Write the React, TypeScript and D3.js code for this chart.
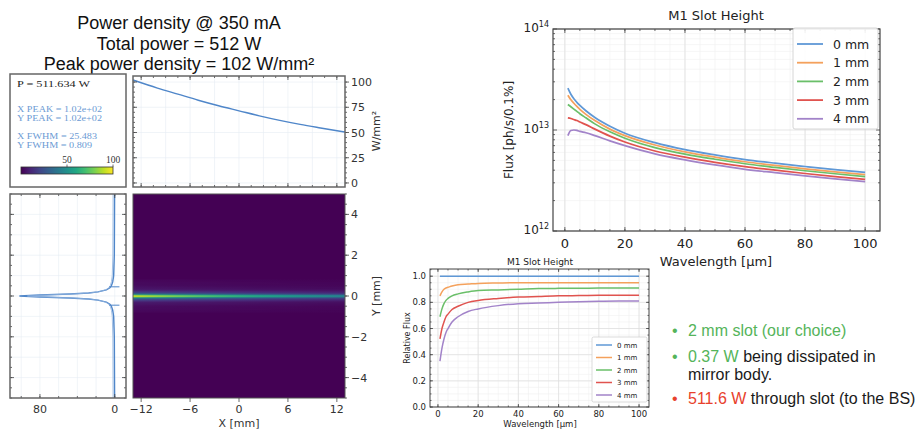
import React from 'react';
import * as d3 from 'd3';

const W = 917;
const H = 430;

// ---------- Power density (left panel) ----------
const xProfX = [-13, -10, -7.5, -5, -2.5, 0, 2.5, 5, 7.5, 10, 13];
const xProfV = [102, 94, 88, 82, 76.5, 71.5, 66.5, 62, 58, 54.5, 50.5];
const yProfY = [-5, -2, -1, -0.7, -0.5, -0.4, -0.3, -0.2, -0.15, -0.1, -0.05, 0, 0.05, 0.1, 0.15, 0.2, 0.3, 0.4, 0.5, 0.7, 1, 2, 5];
const yProfV = [0.2, 0.5, 1.2, 2.2, 3.6, 5.2, 9, 18, 28, 48, 80, 102, 80, 48, 28, 18, 9, 5.2, 3.6, 2.2, 1.2, 0.5, 0.2];
const titleLines = ['Power density @ 350 mA', 'Total power = 512 W', 'Peak power density = 102 W/mm²'];
const infoBlack = 'P = 511.634 W';
const infoBlue1 = ['X PEAK = 1.02e+02', 'Y PEAK = 1.02e+02'];
const infoBlue2 = ['X FWHM = 25.483', 'Y FWHM = 0.809'];
const hmXTicks = [-12, -6, 0, 6, 12];
const hmYTicks = [-4, -2, 0, 2, 4];
const profYTicks = [0, 25, 50, 75, 100];
const leftXTicks = [80, 0];
const cbarTicks = [50, 100];

// ---------- Flux chart (top right) ----------
const wavelengths = [1, 2, 3, 4, 5, 7, 10, 15, 20, 30, 40, 50, 60, 70, 80, 90, 100];
const slotLabels = ['0 mm', '1 mm', '2 mm', '3 mm', '4 mm'];
const slotColors = ['#5f98d6', '#f4a15c', '#6abf69', '#e0534f', '#a283c9'];
// flux in units of 1e12 ph/s/0.1%
const flux0 = [26, 22.6, 20.4, 18.8, 17.5, 15.5, 13.3, 10.9, 9.3, 7.5, 6.4, 5.67, 5.1, 4.69, 4.35, 4.05, 3.8];
const flux1 = [22.1, 19.9, 18.4, 17.1, 16.0, 14.3, 12.4, 10.2, 8.8, 7.1, 6.08, 5.39, 4.85, 4.46, 4.13, 3.85, 3.61];
const flux2 = [17.9, 17.0, 16.1, 15.3, 14.5, 13.2, 11.5, 9.6, 8.3, 6.7, 5.76, 5.13, 4.63, 4.26, 3.95, 3.69, 3.46];
const flux3 = [13.2, 13.0, 12.7, 12.4, 12.0, 11.3, 10.2, 8.7, 7.6, 6.2, 5.38, 4.79, 4.34, 4.0, 3.71, 3.46, 3.25];
const flux4 = [8.8, 9.9, 10.0, 9.9, 9.7, 9.4, 8.8, 7.8, 7.0, 5.8, 5.06, 4.51, 4.08, 3.78, 3.51, 3.28, 3.08];
const fluxSeries = [flux0, flux1, flux2, flux3, flux4];
const fluxUnit = 1e12;
const wlTicks = [0, 20, 40, 60, 80, 100];
const fluxDecades = [12, 13, 14];

// ---------- Relative flux chart (bottom) ----------
const rel0 = [1, 1, 1, 1, 1, 1, 1, 1, 1, 1, 1, 1, 1, 1, 1, 1, 1];
const rel1 = [0.85, 0.88, 0.9, 0.91, 0.915, 0.925, 0.935, 0.94, 0.945, 0.948, 0.95, 0.95, 0.95, 0.95, 0.95, 0.95, 0.95];
const rel2 = [0.69, 0.75, 0.79, 0.815, 0.83, 0.85, 0.865, 0.88, 0.89, 0.895, 0.9, 0.905, 0.907, 0.908, 0.909, 0.91, 0.91];
const rel3 = [0.52, 0.6, 0.65, 0.69, 0.71, 0.745, 0.77, 0.8, 0.815, 0.83, 0.84, 0.845, 0.85, 0.852, 0.854, 0.855, 0.855];
const rel4 = [0.35, 0.45, 0.52, 0.57, 0.6, 0.65, 0.69, 0.73, 0.75, 0.775, 0.79, 0.795, 0.8, 0.805, 0.808, 0.81, 0.81];
const relSeries = [rel0, rel1, rel2, rel3, rel4];
const relTicks = [0, 0.2, 0.4, 0.6, 0.8, 1.0];

// ---------- Bullets ----------
const bullets = [
  [{ t: '2 mm slot (our choice)', c: '#55b45a' }],
  [{ t: '0.37 W', c: '#55b45a' }, { t: ' being dissipated in', c: '#1a1a1a' }],
  [{ t: 'mirror body.', c: '#1a1a1a' }],
  [{ t: '511.6 W', c: '#e8412c' }, { t: ' through slot (to the BS)', c: '#1a1a1a' }],
];

const MPL = "'DejaVu Sans', sans-serif";
const SANS = "'Liberation Sans', Arial, sans-serif";
const SERIF = "'Liberation Serif', 'Times New Roman', serif";

function range(a: number, b: number, s: number) {
  const o: number[] = [];
  for (let v = a; v <= b + 1e-9; v += s) o.push(+v.toFixed(6));
  return o;
}

type Sc = (v: number) => number;

function XTicks({ s, vals, y0, y1, len, col = '#444', w = 0.8 }: { s: Sc; vals: number[]; y0: number; y1: number | null; len: number; col?: string; w?: number }) {
  return (
    <g stroke={col} strokeWidth={w}>
      {vals.map((v, i) => (
        <g key={i}>
          <line x1={s(v)} x2={s(v)} y1={y0} y2={y0 - len} />
          {y1 !== null && <line x1={s(v)} x2={s(v)} y1={y1} y2={y1 + len} />}
        </g>
      ))}
    </g>
  );
}
function YTicks({ s, vals, x0, x1, len, col = '#444', w = 0.8 }: { s: Sc; vals: number[]; x0: number | null; x1: number | null; len: number; col?: string; w?: number }) {
  return (
    <g stroke={col} strokeWidth={w}>
      {vals.map((v, i) => (
        <g key={i}>
          {x0 !== null && <line y1={s(v)} y2={s(v)} x1={x0} x2={x0 + len} />}
          {x1 !== null && <line y1={s(v)} y2={s(v)} x1={x1} x2={x1 - len} />}
        </g>
      ))}
    </g>
  );
}
function VGrid({ s, vals, y0, y1, col, w = 0.6 }: { s: Sc; vals: number[]; y0: number; y1: number; col: string; w?: number }) {
  return <g stroke={col} strokeWidth={w}>{vals.map((v, i) => <line key={i} x1={s(v)} x2={s(v)} y1={y0} y2={y1} />)}</g>;
}
function HGrid({ s, vals, x0, x1, col, w = 0.6 }: { s: Sc; vals: number[]; x0: number; x1: number; col: string; w?: number }) {
  return <g stroke={col} strokeWidth={w}>{vals.map((v, i) => <line key={i} y1={s(v)} y2={s(v)} x1={x0} x2={x1} />)}</g>;
}

export default function App() {
  // ---------- left panel geometry ----------
  const hx = d3.scaleLinear().domain([-13, 13]).range([133, 345]);
  const hy = d3.scaleLinear().domain([-5, 5]).range([398, 194]);
  const py = d3.scaleLinear().domain([-4, 106]).range([187, 76]);
  const lx = d3.scaleLinear().domain([112, -12]).range([10, 126]);
  const color = d3.scaleSequential(d3.interpolateViridis).domain([0, 102]);
  const yInterp = d3.scaleLinear().domain(yProfY).range(yProfV).clamp(true);
  const cbx = d3.scaleLinear().domain([0, 100]).range([21, 113]);

  const profLine = d3.line<number>().x((_, i) => hx(xProfX[i])).y((v) => py(v)).curve(d3.curveMonotoneX);
  const leftLine = d3.line<number>().x((v) => lx(v)).y((_, i) => hy(yProfY[i]));

  const bandStep = 0.04;
  const bands = range(-0.8, 0.8 - bandStep, bandStep);

  // ---------- top right chart ----------
  const fx = d3.scaleLinear().domain([-3.95, 104.95]).range([553, 880]);
  const fy = d3.scaleLog().domain([1e12, 1e14]).range([231, 29]);
  const fLine = d3.line<number>().x((_, i) => fx(wavelengths[i])).y((v) => fy(v * fluxUnit)).curve(d3.curveMonotoneX);
  const logMinor: number[] = [];
  [12, 13].forEach((d) => { for (let m = 2; m <= 9; m++) logMinor.push(m * Math.pow(10, d)); });

  // ---------- bottom chart ----------
  const rx = d3.scaleLinear().domain([-3.95, 104.95]).range([430, 649]);
  const ry = d3.scaleLinear().domain([0, 1.055]).range([407, 269]);
  const rLine = d3.line<number>().x((_, i) => rx(wavelengths[i])).y((v) => ry(v)).curve(d3.curveMonotoneX);

  const infoRows = [
    { t: infoBlack, y: 86.5, c: '#222', len: 73 },
    { t: infoBlue1[0], y: 112, c: '#6b9ad4', len: 85 },
    { t: infoBlue1[1], y: 121, c: '#6b9ad4', len: 85 },
    { t: infoBlue2[0], y: 139, c: '#6b9ad4', len: 80 },
    { t: infoBlue2[1], y: 148, c: '#6b9ad4', len: 75 },
  ];

  return (
    <svg width={W} height={H} style={{ position: 'absolute', left: 0, top: 0, background: '#fff' }}>
      <defs>
        <linearGradient id="cbar" x1="0" x2="1" y1="0" y2="0">
          {range(0, 1, 0.1).map((t, i) => <stop key={i} offset={t} stopColor={d3.interpolateViridis(t)} />)}
        </linearGradient>
        {bands.map((b, bi) => {
          const r = yInterp(b + bandStep / 2) / 102;
          return (
            <linearGradient key={bi} id={`band${bi}`} gradientUnits="userSpaceOnUse" x1={hx(-13)} x2={hx(13)} y1="0" y2="0">
              {xProfX.map((xv, i) => (
                <stop key={i} offset={(xv + 13) / 26} stopColor={color(xProfV[i] * r)} />
              ))}
            </linearGradient>
          );
        })}
        <clipPath id="hmclip"><rect x={133} y={194} width={212} height={204} /></clipPath>
      </defs>
      <rect x={0} y={0} width={W} height={H} fill="#fff" />

      {/* Title */}
      {titleLines.map((t, i) => (
        <text key={i} x={179} y={29 + i * 20.5} textAnchor="middle" fontFamily={SANS} fontSize={18} fill="#111">{t}</text>
      ))}

      {/* Info box */}
      <rect x={10} y={74} width={116} height={113} fill="#fff" stroke="#666" strokeWidth={1.5} />
      {infoRows.map((r, i) => (
        <text key={i} x={17} y={r.y} fontFamily={SERIF} fontSize={8.5} fill={r.c} textLength={r.len} lengthAdjust="spacingAndGlyphs">{r.t}</text>
      ))}
      <rect x={cbx(0)} y={167} width={cbx(100) - cbx(0)} height={7} fill="url(#cbar)" stroke="#333" strokeWidth={0.8} />
      {cbarTicks.map((v) => (
        <g key={v}>
          <line x1={cbx(v)} x2={cbx(v)} y1={167} y2={164.5} stroke="#333" strokeWidth={0.7} />
          <text x={cbx(v)} y={163} textAnchor="middle" fontFamily={SERIF} fontSize={9.5} fill="#333">{v}</text>
        </g>
      ))}

      {/* Top profile plot */}
      <rect x={133} y={76} width={212} height={111} fill="#fff" />
      <VGrid s={hx} vals={range(-12, 12, 3)} y0={76} y1={187} col="#e6ecf3" />
      <HGrid s={py} vals={profYTicks} x0={133} x1={345} col="#e6ecf3" />
      <path d={profLine(xProfV) || ''} fill="none" stroke="#4f86c9" strokeWidth={1.4} />
      <XTicks s={hx} vals={hmXTicks} y0={187} y1={76} len={4} />
      <XTicks s={hx} vals={range(-12, 12, 1.5)} y0={187} y1={76} len={2} />
      <YTicks s={py} vals={profYTicks} x0={133} x1={null} len={4} />
      <YTicks s={py} vals={range(0, 100, 5)} x0={133} x1={null} len={2} />
      <YTicks s={py} vals={profYTicks} x0={345} x1={null} len={4} />
      <YTicks s={py} vals={range(0, 100, 5)} x0={345} x1={null} len={2} />
      <rect x={133} y={76} width={212} height={111} fill="none" stroke="#666" strokeWidth={1.5} />
      {profYTicks.map((v) => (
        <text key={v} x={351} y={py(v) + 4} fontFamily={MPL} fontSize={11} fill="#333">{v}</text>
      ))}
      <text transform="translate(380,131) rotate(-90)" textAnchor="middle" fontFamily={MPL} fontSize={11} fill="#333">W/mm²</text>

      {/* Heatmap */}
      <g clipPath="url(#hmclip)">
        <rect x={133} y={194} width={212} height={204} fill={d3.interpolateViridis(0)} />
        {bands.map((b, bi) => (
          <rect key={bi} x={133} width={212} y={hy(b + bandStep) - 0.15} height={hy(b) - hy(b + bandStep) + 0.3} fill={`url(#band${bi})`} />
        ))}
      </g>
      <rect x={133} y={194} width={212} height={204} fill="none" stroke="#555" strokeWidth={1} />
      <YTicks s={hy} vals={hmYTicks} x0={null} x1={349} len={4} />
      <YTicks s={hy} vals={range(-5, 5, 0.5)} x0={null} x1={347} len={2} />
      <XTicks s={hx} vals={hmXTicks} y0={402} y1={null} len={4} />
      {hmYTicks.map((v) => (
        <text key={v} x={351} y={hy(v) + 4} fontFamily={MPL} fontSize={11} fill="#333">{v < 0 ? `\u2212${-v}` : v}</text>
      ))}
      <text transform="translate(380,296) rotate(-90)" textAnchor="middle" fontFamily={MPL} fontSize={11} fill="#333">Y [mm]</text>
      {hmXTicks.map((v) => (
        <text key={v} x={hx(v)} y={413} textAnchor="middle" fontFamily={MPL} fontSize={11} fill="#333">{v < 0 ? `\u2212${-v}` : v}</text>
      ))}
      <text x={hx(0)} y={427} textAnchor="middle" fontFamily={MPL} fontSize={11} fill="#333">X [mm]</text>

      {/* Left profile */}
      <rect x={10} y={194} width={116} height={204} fill="#fff" />
      <VGrid s={lx} vals={range(0, 100, 20)} y0={194} y1={398} col="#e6ecf3" />
      <HGrid s={hy} vals={range(-4, 4, 1)} x0={10} x1={126} col="#e6ecf3" />
      <path d={leftLine(yProfV) || ''} fill="none" stroke="#4f86c9" strokeWidth={1.4} />
      <path d={leftLine(yProfV.map((v) => v * 0.9)) || ''} fill="none" stroke="#8fb3de" strokeWidth={0.8} transform="translate(-1.5,0)" />
      {[0.45, -0.45].map((v) => (
        <line key={v} x1={lx(6)} x2={lx(-5)} y1={hy(v)} y2={hy(v)} stroke="#4f86c9" strokeWidth={1} />
      ))}
      <XTicks s={lx} vals={leftXTicks} y0={398} y1={194} len={4} />
      <XTicks s={lx} vals={range(0, 100, 20)} y0={398} y1={194} len={2} />
      <YTicks s={hy} vals={hmYTicks} x0={10} x1={126} len={4} />
      <YTicks s={hy} vals={range(-5, 5, 0.5)} x0={10} x1={126} len={2} />
      <rect x={10} y={194} width={116} height={204} fill="none" stroke="#666" strokeWidth={1.5} />
      {leftXTicks.map((v) => (
        <text key={v} x={lx(v)} y={413} textAnchor="middle" fontFamily={MPL} fontSize={11} fill="#333">{v}</text>
      ))}

      {/* Top right: Flux */}
      <VGrid s={fx} vals={range(0, 100, 5)} y0={29} y1={231} col="#f0f0f0" />
      <HGrid s={fy} vals={logMinor} x0={553} x1={880} col="#f0f0f0" />
      <VGrid s={fx} vals={wlTicks} y0={29} y1={231} col="#dedede" w={0.8} />
      <HGrid s={fy} vals={fluxDecades.map((d) => Math.pow(10, d))} x0={553} x1={880} col="#dedede" w={0.8} />
      {fluxSeries.map((s, i) => (
        <path key={i} d={fLine(s) || ''} fill="none" stroke={slotColors[i]} strokeWidth={1.7} />
      ))}
      <XTicks s={fx} vals={wlTicks} y0={231} y1={29} len={4} />
      <XTicks s={fx} vals={range(0, 100, 5)} y0={231} y1={29} len={2} />
      <YTicks s={fy} vals={fluxDecades.map((d) => Math.pow(10, d))} x0={553} x1={880} len={4} />
      <YTicks s={fy} vals={logMinor} x0={553} x1={880} len={2} />
      <rect x={553} y={29} width={327} height={202} fill="none" stroke="#444" strokeWidth={1.2} />
      <text x={716} y={20} textAnchor="middle" fontFamily={MPL} fontSize={13} fill="#222">M1 Slot Height</text>
      {fluxDecades.map((d) => (
        <text key={d} x={549} y={fy(Math.pow(10, d)) + 3} textAnchor="end" fontFamily={MPL} fontSize={12} fill="#222">
          10<tspan dy={-5} fontSize={8}>{d}</tspan>
        </text>
      ))}
      {wlTicks.map((v) => (
        <text key={v} x={fx(v)} y={248} textAnchor="middle" fontFamily={MPL} fontSize={13} fill="#222">{v}</text>
      ))}
      <text x={716} y={266} textAnchor="middle" fontFamily={MPL} fontSize={13} fill="#222">Wavelength [μm]</text>
      <text transform="translate(513,130) rotate(-90)" textAnchor="middle" fontFamily={MPL} fontSize={12} fill="#222">Flux [ph/s/0.1%]</text>
      <rect x={793} y={28} width={85} height={101} rx={2} fill="#fff" fillOpacity={0.9} stroke="#ccc" strokeWidth={0.8} />
      {slotLabels.map((l, i) => (
        <g key={l}>
          <line x1={797} x2={823} y1={44 + i * 18.7} y2={44 + i * 18.7} stroke={slotColors[i]} strokeWidth={1.8} />
          <text x={833} y={44 + i * 18.7 + 4.5} fontFamily={MPL} fontSize={12.5} fill="#222">{l}</text>
        </g>
      ))}

      {/* Bottom: relative flux */}
      <VGrid s={rx} vals={range(0, 100, 5)} y0={269} y1={407} col="#f0f0f0" />
      <HGrid s={ry} vals={range(0, 1.05, 0.05)} x0={430} x1={649} col="#f0f0f0" />
      <VGrid s={rx} vals={wlTicks} y0={269} y1={407} col="#dedede" w={0.7} />
      <HGrid s={ry} vals={relTicks} x0={430} x1={649} col="#dedede" w={0.7} />
      {relSeries.map((s, i) => (
        <path key={i} d={rLine(s) || ''} fill="none" stroke={slotColors[i]} strokeWidth={1.5} />
      ))}
      <XTicks s={rx} vals={wlTicks} y0={407} y1={269} len={3} />
      <XTicks s={rx} vals={range(0, 100, 5)} y0={407} y1={269} len={1.5} />
      <YTicks s={ry} vals={relTicks} x0={430} x1={649} len={3} />
      <YTicks s={ry} vals={range(0, 1.05, 0.05)} x0={430} x1={649} len={1.5} />
      <rect x={430} y={269} width={219} height={138} fill="none" stroke="#444" strokeWidth={1} />
      <text x={540} y={265} textAnchor="middle" fontFamily={MPL} fontSize={9} fill="#222">M1 Slot Height</text>
      {relTicks.map((v) => (
        <text key={v} x={426} y={ry(v) + 3} textAnchor="end" fontFamily={MPL} fontSize={8.5} fill="#222">{v.toFixed(1)}</text>
      ))}
      {wlTicks.map((v) => (
        <text key={v} x={rx(v)} y={417} textAnchor="middle" fontFamily={MPL} fontSize={8.5} fill="#222">{v}</text>
      ))}
      <text x={540} y={427} textAnchor="middle" fontFamily={MPL} fontSize={8.5} fill="#222">Wavelength [μm]</text>
      <text transform="translate(410,338) rotate(-90)" textAnchor="middle" fontFamily={MPL} fontSize={8} fill="#222">Relative Flux</text>
      <rect x={592} y={337} width={55} height={65} rx={1.5} fill="#fff" fillOpacity={0.9} stroke="#ccc" strokeWidth={0.7} />
      {slotLabels.map((l, i) => (
        <g key={l}>
          <line x1={596} x2={612} y1={345 + i * 12.5} y2={345 + i * 12.5} stroke={slotColors[i]} strokeWidth={1.5} />
          <text x={617} y={345 + i * 12.5 + 2.5} fontFamily={MPL} fontSize={7} fill="#222">{l}</text>
        </g>
      ))}

      {/* Bullets */}
      {bullets.map((line, i) => {
        const ys = [336, 362, 380, 404];
        return (
          <g key={i}>
            {i !== 2 && <text x={672} y={ys[i]} fontFamily={SANS} fontSize={16} fill={line[0].c}>•</text>}
            <text x={688} y={ys[i]} fontFamily={SANS} fontSize={16}>
              {line.map((p, j) => <tspan key={j} fill={p.c}>{p.t}</tspan>)}
            </text>
          </g>
        );
      })}
    </svg>
  );
}
